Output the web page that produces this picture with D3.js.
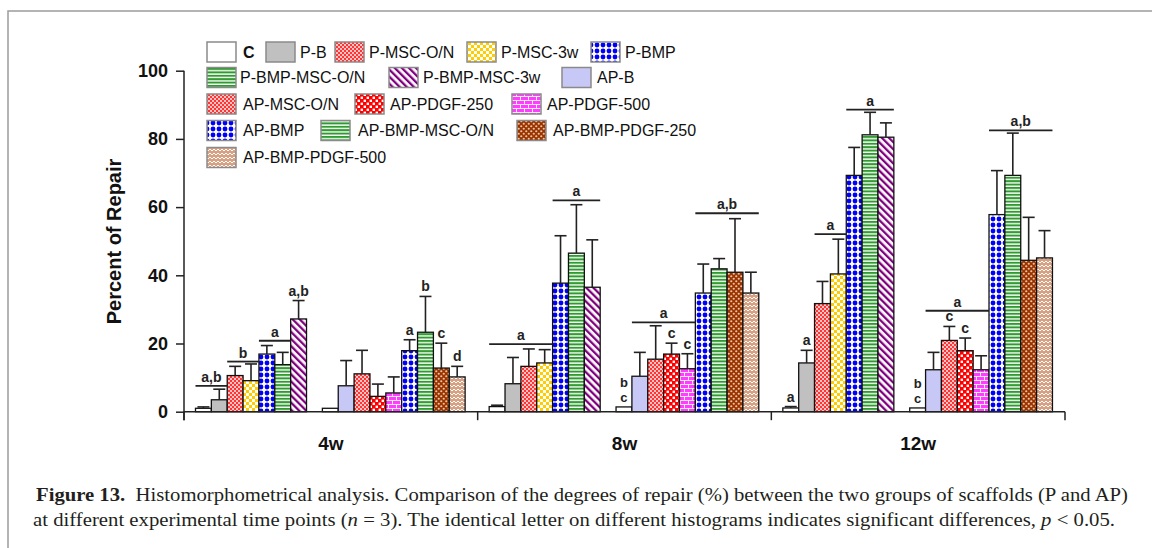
<!DOCTYPE html>
<html>
<head>
<meta charset="utf-8">
<script src="https://cdn.jsdelivr.net/npm/d3@7"></script>
<style>
  body { margin: 0; background: #fff; }
  svg { display: block; font-family: 'Liberation Sans', Arial, sans-serif; }
</style>
</head>
<body>
<div id="chart"></div>
<script>
// ---- data ----
const timepoints = ['4w', '8w', '12w'];
const pBars = ['C', 'P-B', 'P-MSC-O/N', 'P-MSC-3w', 'P-BMP', 'P-BMP-MSC-O/N', 'P-BMP-MSC-3w'];
const apBars = ['C', 'AP-B', 'AP-MSC-O/N', 'AP-PDGF-250', 'AP-PDGF-500', 'AP-BMP', 'AP-BMP-MSC-O/N', 'AP-BMP-PDGF-250', 'AP-BMP-PDGF-500'];

const p4w = [1.0, 3.5, 10.6, 9.1, 16.9, 13.8, 27.2];
const p4wSd = [0.4, 3.1, 2.7, 4.9, 2.5, 3.6, 5.4];
const p8w = [1.5, 8.2, 13.3, 14.3, 37.7, 46.5, 36.5];
const p8wSd = [0.4, 7.7, 5.1, 3.9, 13.9, 14.2, 13.9];
const p12w = [1.1, 14.3, 31.7, 40.4, 69.3, 81.2, 80.5];
const p12wSd = [0.4, 3.7, 6.5, 10.2, 8.2, 6.6, 4.2];

const ap4w = [1.0, 7.6, 11.1, 4.5, 5.5, 17.9, 23.3, 12.8, 10.2];
const ap4wSd = [0, 7.4, 6.9, 3.6, 4.7, 3.2, 10.5, 7.3, 3.1];
const ap8w = [1.4, 10.4, 15.4, 16.9, 12.6, 34.8, 41.9, 40.9, 34.8];
const ap8wSd = [0, 7.0, 9.8, 3.2, 4.4, 8.5, 3.0, 15.7, 6.1];
const ap12w = [1.1, 12.3, 20.9, 17.9, 12.3, 57.8, 69.3, 44.4, 45.1];
const ap12wSd = [0, 5.1, 4.1, 3.7, 4.1, 12.9, 12.4, 12.6, 8.0];

// significance lines: timepoint, first bar slot, last bar slot, level, letter
const brackets = [
  ['4w', 0, 1, 7.6, 'a,b'],
  ['4w', 2, 3, 14.7, 'b'],
  ['4w', 4, 5, 20.8, 'a'],
  ['8w', 0, 3, 19.8, 'a'],
  ['8w', 4, 6, 62.0, 'a'],
  ['8w', 9, 12, 26.2, 'a'],
  ['8w', 13, 16, 58.2, 'a,b'],
  ['12w', 2, 3, 52.1, 'a'],
  ['12w', 4, 6, 88.6, 'a'],
  ['12w', 9, 12, 29.6, 'a'],
  ['12w', 13, 16, 82.5, 'a,b']
];
// letters sitting on top of single bars ('|' = stacked)
const barLetters = [
  ['4w', 6, 'a,b'], ['4w', 13, 'a'], ['4w', 14, 'b'], ['4w', 15, 'c'], ['4w', 16, 'd'],
  ['8w', 8, 'b|c'], ['8w', 11, 'c'], ['8w', 12, 'c'],
  ['12w', 0, 'a'], ['12w', 1, 'a'], ['12w', 8, 'b|c'], ['12w', 10, 'c'], ['12w', 11, 'c']
];

const pMeans = [p4w, p8w, p12w];
const pSds = [p4wSd, p8wSd, p12wSd];
const apMeans = [ap4w, ap8w, ap12w];
const apSds = [ap4wSd, ap8wSd, ap12wSd];

const table = [];
timepoints.forEach((t, ti) => {
  pBars.forEach((name, i) => table.push({ time: t, slot: i, name: name, mean: pMeans[ti][i], sd: pSds[ti][i] }));
  apBars.forEach((name, i) => table.push({ time: t, slot: 8 + i, name: name, mean: apMeans[ti][i], sd: apSds[ti][i] }));
});

// ---- svg ----
const width = 1152;
const height = 548;
const svg = d3.select('#chart').append('svg')
  .attr('width', width)
  .attr('height', height);

// figure frame (only top and left edges are visible)
svg.append('path')
  .attr('d', `M8,${height}V11H${width}`)
  .attr('fill', 'none')
  .attr('stroke', '#9c9c9c')
  .attr('stroke-width', 1.5);

// patterns
const defs = svg.append('defs');
function pattern(id, w, h, bg) {
  const p = defs.append('pattern')
    .attr('id', id)
    .attr('patternUnits', 'userSpaceOnUse')
    .attr('width', w)
    .attr('height', h);
  p.append('rect').attr('width', w).attr('height', h).attr('fill', bg);
  return p;
}

let p = pattern('redDots', 4, 4, '#ff3434');
[[1, 1], [3, 3]].forEach((c) => p.append('circle').attr('cx', c[0]).attr('cy', c[1]).attr('r', 0.95).attr('fill', '#fff'));

p = pattern('goldCheck', 6, 6, '#fff');
[[0, 0], [3, 3]].forEach((c) => p.append('rect').attr('x', c[0]).attr('y', c[1]).attr('width', 3).attr('height', 3).attr('fill', '#ffcc00'));

p = pattern('blueDots', 6, 6, '#fff');
p.append('circle').attr('cx', 3).attr('cy', 3).attr('r', 2.4).attr('fill', '#0000ff');

p = pattern('greenLines', 4, 3.4, '#fff');
p.append('rect').attr('width', 4).attr('height', 2).attr('fill', '#2f9a2f');

p = pattern('purpleDiag', 5, 5, '#fff').attr('patternTransform', 'rotate(-45)');
p.append('rect').attr('width', 2.3).attr('height', 5).attr('fill', '#800080');

p = pattern('redCheck', 6, 6, '#ff0000');
[[0.6, 0.6], [3.6, 3.6]].forEach((c) => p.append('rect').attr('x', c[0]).attr('y', c[1]).attr('width', 2.4).attr('height', 2.4).attr('fill', '#fff'));

p = pattern('brick', 8, 8, '#ff3cff');
p.append('path').attr('d', 'M0,0.5H8M0,4.5H8M0.5,0.5V4.5M4.5,4.5V8').attr('stroke', '#fff').attr('stroke-width', 0.9).attr('fill', 'none');

p = pattern('brownDots', 5, 5, '#9a3300');
[[1.25, 1.25], [3.75, 3.75]].forEach((c) => p.append('circle').attr('cx', c[0]).attr('cy', c[1]).attr('r', 1.1).attr('fill', '#ecc4a4'));

p = pattern('tanZig', 4, 4, '#d9a184');
p.append('path').attr('d', 'M0,3L2,1L4,3').attr('stroke', '#fff').attr('stroke-width', 1).attr('fill', 'none');

const fills = {
  'C': '#ffffff',
  'P-B': '#c0c0c0',
  'P-MSC-O/N': 'url(#redDots)',
  'P-MSC-3w': 'url(#goldCheck)',
  'P-BMP': 'url(#blueDots)',
  'P-BMP-MSC-O/N': 'url(#greenLines)',
  'P-BMP-MSC-3w': 'url(#purpleDiag)',
  'AP-B': '#c8c8f6',
  'AP-MSC-O/N': 'url(#redDots)',
  'AP-PDGF-250': 'url(#redCheck)',
  'AP-PDGF-500': 'url(#brick)',
  'AP-BMP': 'url(#blueDots)',
  'AP-BMP-MSC-O/N': 'url(#greenLines)',
  'AP-BMP-PDGF-250': 'url(#brownDots)',
  'AP-BMP-PDGF-500': 'url(#tanZig)'
};

// scales
const y = d3.scaleLinear().domain([0, 100]).range([411.7, 70.7]);
const x = d3.scaleBand().domain(timepoints).range([184, 1065]);
const slotW = 15.86;
const slot = d3.scaleBand().domain(d3.range(17)).range([11.5, 11.5 + 17 * slotW]);
const barX = (t, s) => x(t) + slot(s);

// bars
svg.append('g').attr('class', 'bars')
  .selectAll('rect')
  .data(table)
  .enter().append('rect')
  .attr('x', (d) => barX(d.time, d.slot))
  .attr('y', (d) => y(d.mean))
  .attr('width', slot.bandwidth())
  .attr('height', (d) => y(0) - y(d.mean))
  .attr('fill', (d) => fills[d.name])
  .attr('stroke', '#111')
  .attr('stroke-width', 1.3);

// error bars (upper only)
const err = svg.append('g').attr('class', 'errors')
  .attr('stroke', '#222').attr('stroke-width', 1.6)
  .selectAll('g')
  .data(table.filter((d) => d.sd > 0))
  .enter().append('g');
err.append('line')
  .attr('x1', (d) => barX(d.time, d.slot) + slotW / 2)
  .attr('x2', (d) => barX(d.time, d.slot) + slotW / 2)
  .attr('y1', (d) => y(d.mean))
  .attr('y2', (d) => y(d.mean + d.sd));
err.append('line')
  .attr('x1', (d) => barX(d.time, d.slot) + slotW / 2 - 6)
  .attr('x2', (d) => barX(d.time, d.slot) + slotW / 2 + 6)
  .attr('y1', (d) => y(d.mean + d.sd))
  .attr('y2', (d) => y(d.mean + d.sd));

// axes
const yAxis = svg.append('g')
  .attr('transform', `translate(${x.range()[0]},0)`)
  .call(d3.axisLeft(y).tickValues([0, 20, 40, 60, 80, 100]).tickSize(8).tickPadding(8));
yAxis.select('.domain').remove();
yAxis.selectAll('line').attr('stroke', '#222').attr('stroke-width', 1.5);
yAxis.selectAll('text')
  .attr('font-family', "'Liberation Sans', Arial, sans-serif")
  .attr('font-size', 18).attr('font-weight', 'bold').attr('fill', '#111');
svg.append('line')
  .attr('x1', x.range()[0]).attr('x2', x.range()[0])
  .attr('y1', y(100)).attr('y2', y(0) + 8.5)
  .attr('stroke', '#222').attr('stroke-width', 1.5);

svg.append('line')
  .attr('x1', x.range()[0]).attr('x2', x.range()[1])
  .attr('y1', y(0)).attr('y2', y(0))
  .attr('stroke', '#222').attr('stroke-width', 1.5);
svg.append('g').selectAll('line')
  .data(d3.range(timepoints.length + 1))
  .enter().append('line')
  .attr('x1', (i) => x.range()[0] + i * x.step())
  .attr('x2', (i) => x.range()[0] + i * x.step())
  .attr('y1', y(0)).attr('y2', y(0) + 8.5)
  .attr('stroke', '#222').attr('stroke-width', 1.5);
svg.append('g').selectAll('text')
  .data(timepoints)
  .enter().append('text')
  .attr('x', (t) => x(t) + x.bandwidth() / 2)
  .attr('y', 450)
  .attr('text-anchor', 'middle')
  .attr('font-size', 19).attr('font-weight', 'bold').attr('fill', '#111')
  .text((t) => t);

svg.append('text')
  .attr('transform', 'translate(120.5,241.5) rotate(-90)')
  .attr('text-anchor', 'middle')
  .attr('font-size', 20).attr('font-weight', 'bold').attr('fill', '#111')
  .text('Percent of Repair');

// significance lines + letters
const br = svg.append('g').attr('class', 'brackets');
brackets.forEach((b) => {
  const x1 = barX(b[0], b[1]);
  const x2 = barX(b[0], b[2]) + slotW;
  br.append('line')
    .attr('x1', x1).attr('x2', x2)
    .attr('y1', y(b[3])).attr('y2', y(b[3]))
    .attr('stroke', '#222').attr('stroke-width', 1.8);
  br.append('text')
    .attr('x', (x1 + x2) / 2).attr('y', y(b[3]) - 4)
    .attr('text-anchor', 'middle')
    .attr('font-size', 14).attr('font-weight', 'bold').attr('fill', '#222')
    .text(b[4]);
});
barLetters.forEach((l) => {
  const d = table.find((r) => r.time === l[0] && r.slot === l[1]);
  const lines = l[2].split('|').reverse();
  lines.forEach((s, k) => {
    br.append('text')
      .attr('x', barX(l[0], l[1]) + slotW / 2)
      .attr('y', y(d.mean + d.sd) - 5 - k * 15)
      .attr('text-anchor', 'middle')
      .attr('font-size', lines.length > 1 ? 13 : 14).attr('font-weight', 'bold').attr('fill', '#222')
      .text(s);
  });
});

// legend (layout copied from the figure)
const legendRows = [
  { y: 52, items: [['C', 207, 243], ['P-B', 266, 300], ['P-MSC-O/N', 335, 369], ['P-MSC-3w', 467, 501], ['P-BMP', 591, 625]] },
  { y: 77.5, items: [['P-BMP-MSC-O/N', 207, 240], ['P-BMP-MSC-3w', 389, 423], ['AP-B', 562, 597]] },
  { y: 104, items: [['AP-MSC-O/N', 207, 243], ['AP-PDGF-250', 355, 390], ['AP-PDGF-500', 512, 547]] },
  { y: 130.5, items: [['AP-BMP', 207, 243], ['AP-BMP-MSC-O/N', 321, 358], ['AP-BMP-PDGF-250', 517, 553]] },
  { y: 157.5, items: [['AP-BMP-PDGF-500', 207, 243]] }
];
const legend = svg.append('g').attr('class', 'legend');
legendRows.forEach((row) => {
  row.items.forEach((it) => {
    legend.append('rect')
      .attr('x', it[1]).attr('y', row.y - 10)
      .attr('width', 29).attr('height', 20)
      .attr('fill', fills[it[0]])
      .attr('stroke', '#8a8a8a').attr('stroke-width', 1.5);
    legend.append('text')
      .attr('x', it[2]).attr('y', row.y + 5.8)
      .attr('font-size', 16)
      .attr('font-weight', it[0] === 'C' ? 'bold' : 'normal')
      .attr('fill', '#111')
      .text(it[0]);
  });
});

// caption
const cap = svg.append('g')
  .attr('font-family', "'Liberation Serif', 'Times New Roman', serif")
  .attr('font-size', 18.5)
  .attr('fill', '#231f20');
const c1 = cap.append('text').attr('x', 36).attr('y', 500.5)
  .attr('textLength', 1092).attr('lengthAdjust', 'spacingAndGlyphs');
c1.append('tspan').attr('font-weight', 'bold').text('Figure 13.');
c1.append('tspan').text('\u00a0\u00a0Histomorphometrical analysis. Comparison of the degrees of repair (%) between the two groups of scaffolds (P and AP)');
const c2 = cap.append('text').attr('x', 33).attr('y', 525.5)
  .attr('textLength', 1082).attr('lengthAdjust', 'spacingAndGlyphs');
c2.append('tspan').text('at different experimental time points (');
c2.append('tspan').attr('font-style', 'italic').text('n');
c2.append('tspan').text(' = 3). The identical letter on different histograms indicates significant differences, ');
c2.append('tspan').attr('font-style', 'italic').text('p');
c2.append('tspan').text(' < 0.05.');
</script>
</body>
</html>
